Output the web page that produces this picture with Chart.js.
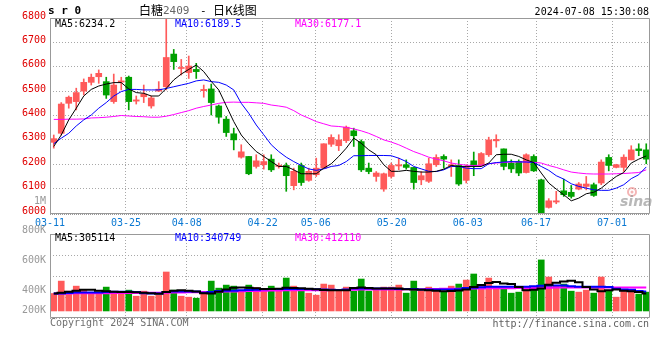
<!DOCTYPE html>
<html><head><meta charset="utf-8">
<script src="https://cdn.jsdelivr.net/npm/chart.js@4/dist/chart.umd.min.js"></script>
<style>
html,body{margin:0;padding:0;background:#fff;}
#wrap{position:relative;width:660px;height:360px;overflow:hidden;background:#fff;}
#c1{position:absolute;left:0;top:0;}
#c2{position:absolute;left:0;top:190px;}
</style></head><body>
<div id="wrap">
<canvas id="c1" width="660" height="232"></canvas>
<canvas id="c2" width="660" height="170"></canvas>
</div>
<script>
// ---------- DATA ----------
const dates = ['03-11','03-12','03-13','03-14','03-15','03-18','03-19','03-20','03-21','03-22',
 '03-25','03-26','03-27','03-28','03-29','04-01','04-02','04-03','04-08','04-09',
 '04-10','04-11','04-12','04-15','04-16','04-17','04-18','04-19','04-22','04-23',
 '04-24','04-25','04-26','04-29','04-30','05-06','05-07','05-08','05-09','05-10',
 '05-13','05-14','05-15','05-16','05-17','05-20','05-21','05-22','05-23','05-24',
 '05-27','05-28','05-29','05-30','05-31','06-03','06-04','06-05','06-06','06-07',
 '06-11','06-12','06-13','06-14','06-17','06-18','06-19','06-20','06-21','06-24',
 '06-25','06-26','06-27','06-28','07-01','07-02','07-03','07-04','07-05','07-08'];
const xTickLabels = ['03-11','03-25','04-08','04-22','05-06','05-20','06-03','06-17','07-01'];

const open  = [6290,6327,6450,6457,6500,6536,6559,6539,6457,6537, 6557,6459,6477,6439,6500,6518,6652,6593,6576,6589,
 6502,6509,6439,6385,6325,6229,6232,6191,6198,6221, 6191,6195,6112,6195,6134,6157,6184,6282,6276,6297,
 6337,6293,6184,6150,6098,6150,6193,6198,6187,6136, 6130,6198,6232,6193,6195,6134,6214,6195,6239,6296,
 6263,6205,6211,6166,6232,6136,6023,6045,6091,6085, 6098,6109,6116,6123,6228,6187,6187,6218,6263,6259];
const high  = [6320,6453,6480,6512,6550,6570,6587,6557,6570,6557, 6562,6480,6525,6480,6539,6795,6671,6630,6644,6614,
 6525,6529,6443,6396,6348,6280,6232,6239,6239,6239, 6205,6205,6184,6205,6184,6225,6284,6321,6321,6357,
 6348,6300,6205,6170,6164,6205,6225,6218,6187,6170, 6225,6239,6239,6218,6218,6198,6250,6248,6311,6321,
 6263,6218,6218,6243,6239,6139,6059,6089,6139,6113, 6125,6150,6123,6218,6239,6200,6239,6276,6284,6284];
const low   = [6266,6320,6430,6423,6484,6525,6532,6470,6450,6505, 6423,6447,6453,6430,6498,6505,6589,6566,6552,6552,
 6475,6402,6368,6314,6259,6225,6157,6184,6180,6170, 6184,6089,6095,6113,6130,6150,6184,6273,6256,6289,
 6273,6170,6161,6130,6089,6143,6177,6180,6098,6116, 6125,6191,6184,6150,6113,6123,6153,6191,6232,6270,
 6177,6166,6153,6164,6170,5995,6020,6038,6068,6061, 6095,6095,6068,6116,6173,6185,6170,6218,6235,6202];
const close = [6305,6447,6475,6494,6536,6557,6573,6484,6525,6542, 6457,6464,6488,6472,6508,6638,6621,6597,6603,6580,
 6507,6453,6393,6330,6300,6251,6161,6214,6211,6177, 6196,6153,6171,6125,6171,6184,6284,6310,6300,6352,
 6317,6177,6170,6164,6161,6195,6198,6187,6125,6153, 6202,6228,6221,6198,6119,6187,6195,6244,6300,6302,
 6191,6181,6164,6239,6173,6000,6050,6050,6075,6068, 6119,6119,6072,6209,6195,6198,6229,6259,6256,6221];

const ma5  = [6273,6320,6382,6430,6480,6507,6521,6529,6535,6535, 6509,6494,6491,6480,6480,6511,6546,6570,6589,6607,
 6580,6540,6505,6440,6375,6320,6284,6252,6232,6211, 6191,6191,6177,6161,6161,6161,6184,6202,6232,6266,
 6307,6286,6259,6239,6198,6171,6171,6175,6171,6168, 6168,6171,6180,6195,6191,6191,6191,6191,6205,6239,
 6241,6241,6232,6218,6207,6164,6123,6098,6075,6050, 6061,6079,6085,6102,6127,6150,6166,6205,6221,6234];
const ma10 = [6284,6307,6327,6357,6382,6402,6430,6453,6480,6498, 6507,6507,6505,6505,6505,6511,6518,6525,6532,6542,
 6546,6539,6536,6525,6505,6450,6409,6361,6321,6280, 6252,6229,6211,6195,6181,6175,6181,6191,6195,6211,
 6235,6235,6236,6236,6236,6235,6225,6211,6191,6181, 6171,6170,6177,6191,6191,6184,6182,6182,6202,6207,
 6209,6211,6210,6209,6207,6191,6175,6153,6139,6120, 6109,6102,6095,6093,6093,6102,6116,6141,6157,6189];
const ma30 = [6384,6384,6385,6385,6386,6390,6391,6393,6396,6400, 6398,6396,6395,6393,6393,6397,6404,6412,6420,6430,
 6437,6443,6450,6454,6455,6454,6454,6452,6450,6443, 6439,6434,6420,6402,6389,6375,6366,6357,6355,6351,
 6345,6337,6327,6314,6300,6291,6280,6266,6252,6241, 6229,6221,6214,6205,6200,6196,6195,6196,6202,6205,
 6207,6209,6209,6210,6208,6205,6195,6187,6177,6168, 6164,6161,6160,6160,6160,6161,6162,6164,6166,6177];

const volume = [305000,522000,346000,434000,376000,317000,305000,417000,335000,317000, 364000,258000,346000,258000,276000,681000,364000,258000,241000,223000,
 335000,522000,399000,452000,434000,364000,452000,411000,376000,434000, 364000,575000,434000,364000,311000,276000,470000,452000,346000,417000,
 346000,558000,346000,382000,417000,417000,452000,311000,522000,346000, 417000,382000,329000,434000,470000,540000,646000,434000,575000,417000,
 399000,311000,329000,417000,382000,892000,593000,434000,470000,346000, 329000,364000,311000,593000,346000,241000,364000,364000,294000,329000];
const volMa5 = [305000,318000,335000,355000,370000,370000,355000,345000,335000,330000, 330000,325000,320000,310000,300000,330000,355000,360000,355000,340000,
 310000,305000,335000,375000,405000,410000,405000,395000,385000,385000, 390000,405000,400000,395000,390000,380000,365000,360000,364000,364000,
 400000,411000,400000,393000,393000,393000,393000,380000,376000,370000, 364000,355000,346000,350000,358000,375000,420000,452000,490000,505000,
 480000,470000,420000,364000,370000,393000,460000,493000,515000,528000, 500000,420000,376000,346000,360000,376000,355000,346000,330000,305114];
const volMa10 = [305000,305000,315000,323000,323000,323000,323000,330000,335000,335000, 335000,330000,310000,305000,305000,330000,340000,340000,340000,340000,
 320000,330000,350000,352000,355000,360000,365000,370000,380000,382000, 382000,385000,385000,382000,382000,380000,375000,370000,365000,375000,
 393000,393000,393000,393000,393000,393000,385000,382000,382000,376000, 376000,376000,376000,376000,380000,400000,405000,415000,423000,423000,
 423000,423000,423000,425000,434000,440000,446000,446000,446000,430000, 423000,423000,423000,423000,420000,390000,376000,370000,350000,340749];
const volMa30 = [305000,305000,306000,308000,308000,309000,311000,311000,312000,314000, 315000,316000,317000,317000,318000,320000,322000,324000,326000,329000,
 331000,333000,336000,339000,342000,345000,348000,351000,354000,356000, 358000,360000,361000,362000,363000,364000,364000,365000,366000,368000,
 372000,375000,376000,376000,377000,376000,377000,378000,380000,381000, 383000,384000,386000,388000,390000,392000,393000,394000,395000,396000,
 398000,399000,400000,401000,403000,405000,407000,408000,409000,410000, 410000,411000,411000,411000,412000,412000,412000,412000,412000,412110];
const volTickValues = [200000, 400000, 600000, 800000, 1000000];

const titleCode = 's r 0';
const titleName = '白糖';
const titleContract = '2409';
const titleKind = '日K线图';
const timeStamp = '2024-07-08 15:30:08';
const priceLegend = ['MA5:6234.2','MA10:6189.5','MA30:6177.1'];
const volLegend = ['MA5:305114','MA10:340749','MA30:412110'];

// ---------- STYLE ----------
const UP = '#ff5a5a', DOWN = '#00a000';
const MONO = '"DejaVu Sans Mono","Liberation Mono",monospace';
const GRID = '#a8a8a8', FRAME = '#999';
const candleColors = close.map((c,i)=> c >= open[i] ? UP : DOWN);
const tickIdx = xTickLabels.map(l => dates.indexOf(l));

function txt(ctx, s, x, y, color, font, align){
  ctx.save(); ctx.font = font; ctx.fillStyle = color; ctx.textAlign = align || 'left';
  ctx.textBaseline = 'middle'; ctx.fillText(s, x, y); ctx.restore();
}
function frame(ctx, l, t, r, b){
  ctx.save(); ctx.strokeStyle = FRAME; ctx.lineWidth = 1;
  ctx.beginPath();
  ctx.moveTo(l, t); ctx.lineTo(r, t); ctx.lineTo(r, b); ctx.lineTo(l, b); ctx.closePath();
  ctx.stroke(); ctx.restore();
}

const gridX = (showLabels) => ({
  type: 'linear', position: 'bottom', min: 0, max: dates.length - 1,
  offset: false, bounds: 'data',
  afterBuildTicks: s => { s.ticks = tickIdx.map(v => ({value: v})); },
  afterFit: s => { s.height = showLabels ? 19 : 0; },
  grid: { offset: false, color: GRID, lineWidth: 1, drawTicks: false, borderDash: [1,2] },
  border: { display: false, dash: [1,2] },
  ticks: { display: showLabels, autoSkip: false, maxRotation: 0, padding: 4,
           color: '#0a78d2', font: { family: MONO, size: 10 },
           callback: v => dates[v] }
});

// ---------- PRICE CHART ----------
const pricePlugin = {
  id: 'priceDeco',
  beforeDatasetsDraw(chart){
    const ctx = chart.ctx;
    ctx.save();
    ctx.strokeStyle = 'rgba(235,120,120,0.55)'; ctx.lineWidth = 2;
    ctx.beginPath(); ctx.arc(632, 192, 4, 0, Math.PI*2); ctx.stroke();
    ctx.fillStyle = 'rgba(235,120,120,0.55)';
    ctx.beginPath(); ctx.arc(632, 192, 1.5, 0, Math.PI*2); ctx.fill();
    ctx.restore();
    txt(ctx, 'sina', 620, 202, 'rgba(160,160,160,0.75)', 'italic bold 14px "DejaVu Sans"');
  },
  afterDraw(chart){
    const ctx = chart.ctx;
    frame(ctx, 50.5, 18.5, 649.5, 213.5);
    ctx.save(); ctx.strokeStyle = FRAME; ctx.setLineDash([1,1]);
    ctx.beginPath(); ctx.moveTo(50, 214.5); ctx.lineTo(650, 214.5); ctx.stroke(); ctx.restore();
    txt(ctx, titleCode, 48, 11.5, '#000', 'bold 11px ' + MONO);
    txt(ctx, titleName, 139, 10.5, '#000', '12px "Noto Sans CJK SC"');
    txt(ctx, titleContract, 163, 11, '#666', '11px ' + MONO);
    txt(ctx, '-', 200, 11, '#000', '11px ' + MONO);
    txt(ctx, titleKind, 213, 10.5, '#000', '12px "Noto Sans CJK SC"');
    txt(ctx, timeStamp, 649, 12, '#000', '10px ' + MONO, 'right');
    txt(ctx, priceLegend[0], 55, 24, '#000', '10px ' + MONO);
    txt(ctx, priceLegend[1], 175, 24, '#0000ff', '10px ' + MONO);
    txt(ctx, priceLegend[2], 295, 24, '#ff00ff', '10px ' + MONO);
  }
};

const lineDs = (label, data, color, w, axisY, stepped) => ({
  type: 'line', label, data, borderColor: color, borderWidth: w, pointRadius: 0,
  tension: 0, fill: false, order: 0, xAxisID: 'x', yAxisID: axisY, stepped: stepped || false
});

new Chart(document.getElementById('c1'), {
  type: 'bar',
  data: {
    labels: dates,
    datasets: [
      lineDs('MA5', ma5, '#000000', 1, 'y'),
      lineDs('MA10', ma10, '#0000ff', 1, 'y'),
      lineDs('MA30', ma30, '#ff00ff', 1, 'y'),
      { type: 'bar', label: 'body', data: dates.map((d,i)=>[Math.min(open[i],close[i]), Math.max(open[i],close[i])]),
        backgroundColor: candleColors, barThickness: 6, grouped: false, order: 1, xAxisID: 'x', yAxisID: 'y' },
      { type: 'bar', label: 'wick', data: dates.map((d,i)=>[low[i], high[i]]),
        backgroundColor: candleColors, barThickness: 1, grouped: false, order: 2, xAxisID: 'x', yAxisID: 'y' }
    ]
  },
  options: {
    responsive: false, animation: false, events: [],
    layout: { padding: { top: 18, left: 0, right: 10, bottom: 0 } },
    plugins: { legend: { display: false }, tooltip: { enabled: false } },
    scales: {
      x: { type: 'category', display: false, offset: true },
      xg: gridX(true),
      y: { type: 'linear', position: 'left', min: 6000, max: 6800,
           afterFit: s => { s.width = 50; },
           grid: { color: GRID, drawTicks: false, borderDash: [1,2] },
           border: { display: false, dash: [1,2] },
           ticks: { stepSize: 100, padding: 4, labelOffset: -2, color: '#e00000',
                    font: { family: MONO, size: 10 }, callback: v => String(v) } }
    }
  },
  plugins: [pricePlugin]
});

// ---------- VOLUME CHART ----------
const volPlugin = {
  id: 'volDeco',
  afterDraw(chart){
    const ctx = chart.ctx, a = chart.chartArea;
    frame(ctx, 50.5, 44.5, 649.5, 127.5);
    const yl = chart.scales.yl;
    volTickValues.forEach(v => {
      let y = yl.getPixelForValue(v);
      y = Math.min(y, a.bottom - 8);
      const s = v >= 1000000 ? (v/1000000) + 'M' : (v/1000) + 'K';
      txt(ctx, s, 46, y, '#999', '10px ' + MONO, 'right');
    });
    txt(ctx, volLegend[0], 55, 48.5, '#000', '10px ' + MONO);
    txt(ctx, volLegend[1], 175, 48.5, '#0000ff', '10px ' + MONO);
    txt(ctx, volLegend[2], 295, 48.5, '#ff00ff', '10px ' + MONO);
    txt(ctx, 'Copyright 2024 SINA.COM', 50, 133.5, '#707070', '10px ' + MONO);
    txt(ctx, 'http://finance.sina.com.cn', 649, 134, '#606060', '10px ' + MONO, 'right');
  }
};

new Chart(document.getElementById('c2'), {
  type: 'bar',
  data: {
    labels: dates,
    datasets: [
      lineDs('VMA5', volMa5, '#000000', 2, 'y', 'middle'),
      lineDs('VMA10', volMa10, '#0000ff', 2, 'y', 'middle'),
      lineDs('VMA30', volMa30, '#ff00ff', 2, 'y', 'middle'),
      { type: 'bar', label: 'vol', data: volume, backgroundColor: candleColors,
        barThickness: 6, grouped: false, order: 1, xAxisID: 'x', yAxisID: 'y' }
    ]
  },
  options: {
    responsive: false, animation: false, events: [],
    layout: { padding: { top: 44, left: 0, right: 10, bottom: 42 } },
    plugins: { legend: { display: false }, tooltip: { enabled: false } },
    scales: {
      x: { type: 'category', display: false, offset: true },
      xg: gridX(false),
      yg: { type: 'linear', position: 'left', min: 0, max: 4,
            afterFit: s => { s.width = 50; },
            grid: { color: GRID, drawTicks: false, borderDash: [1,2] },
            border: { display: false, dash: [1,2] },
            ticks: { display: false, stepSize: 1 } },
      y: { type: 'linear', display: false, min: -123000, max: 1345000 },
      yl: { type: 'linear', display: false, min: 211000, max: 778000 }
    }
  },
  plugins: [volPlugin]
});
</script>
</body></html>
